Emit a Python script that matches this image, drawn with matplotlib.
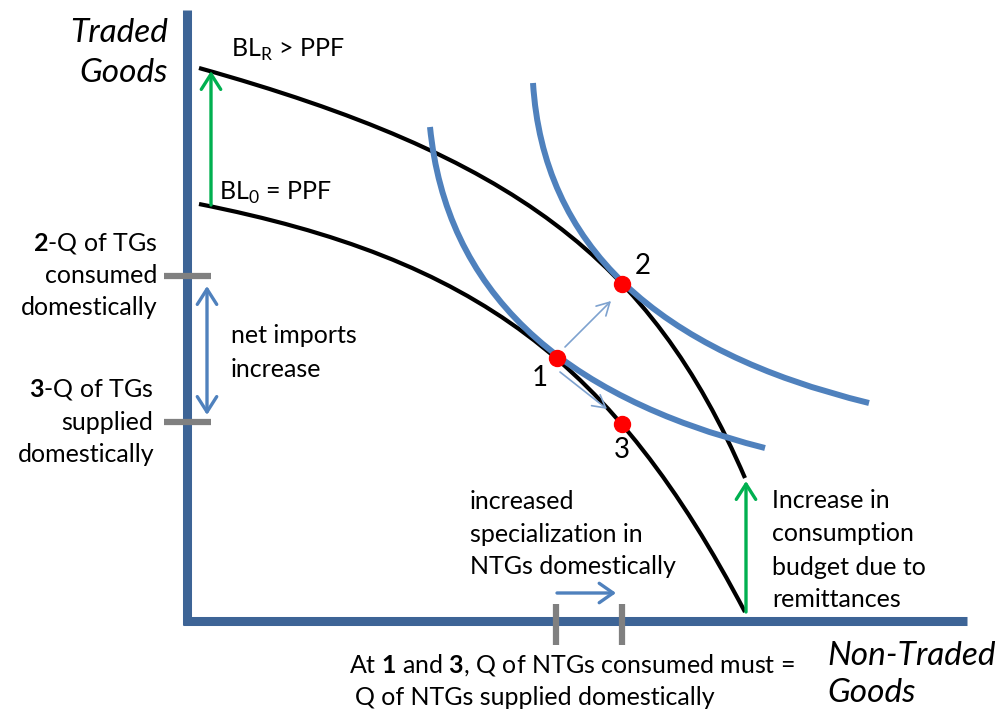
import matplotlib
matplotlib.use("Agg")
import matplotlib.pyplot as plt
from matplotlib.path import Path
from matplotlib.patches import PathPatch, FancyArrowPatch

plt.rcParams["font.family"] = ["Lato", "DejaVu Sans"]
plt.rcParams["mathtext.fontset"] = "custom"
plt.rcParams["mathtext.rm"] = "Lato"
plt.rcParams["mathtext.bf"] = "Lato:bold"

# everything in picture pixels (x right, y down)
axis_v = [(187, 10), (187, 625)]
axis_h = [(183, 621), (967, 621)]

# budget lines / PPF as cubic bezier control points
bl_r = [(199, 68), (513, 156), (650, 258), (745, 478)]
bl_0 = [(199, 204), (476, 259), (613, 361), (745, 612)]
# indifference curves as quadratic bezier control points
ic_1 = [(430, 127), (454, 370), (765, 448)]
ic_2 = [(533, 83), (548, 325), (869, 403)]

points = {"1": (557, 358), "2": (622, 284), "3": (622, 424)}
point_labels = {"1": (540, 378), "2": (643, 266), "3": (622, 450)}

ticks_y = [276, 422]
ticks_x = [556, 622]

BLUE = "#4f81bd"
AXIS = "#3d6496"
GREEN = "#00b050"
GREY = "#808080"

fig = plt.figure(figsize=(9.98, 7.17), dpi=100)
ax = fig.add_axes([0, 0, 1, 1])
ax.set_xlim(0, 998)
ax.set_ylim(717, 0)
ax.axis("off")

ax.plot(*zip(*axis_v), color=AXIS, lw=6.5, solid_capstyle="butt", zorder=2)
ax.plot(*zip(*axis_h), color=AXIS, lw=6.5, solid_capstyle="butt", zorder=2)


def bez(pts, color, lw):
    codes = [Path.MOVETO] + [Path.CURVE4 if len(pts) == 4 else Path.CURVE3] * (len(pts) - 1)
    ax.add_patch(PathPatch(Path(pts, codes), fill=False, edgecolor=color, lw=lw,
                           capstyle="butt", zorder=3))


bez(bl_r, "black", 3.0)
bez(bl_0, "black", 3.0)
bez(ic_1, BLUE, 4.3)
bez(ic_2, BLUE, 4.3)

for y in ticks_y:
    ax.plot([164, 211], [y, y], color=GREY, lw=4.5, solid_capstyle="butt", zorder=4)
for x in ticks_x:
    ax.plot([x, x], [604, 645], color=GREY, lw=4.5, solid_capstyle="butt", zorder=4)


def arrow(p0, p1, color, lw, style="->", hl=9, hw=5):
    ax.add_patch(FancyArrowPatch(p0, p1, arrowstyle=f"{style},head_length={hl},head_width={hw}",
                                 color=color, lw=lw, shrinkA=0, shrinkB=0,
                                 mutation_scale=1, zorder=5))


arrow((211, 205), (211, 71), GREEN, 2.4, hl=11, hw=7)
arrow((746, 612), (746, 481), GREEN, 2.4, hl=11, hw=7)
arrow((207, 415), (207, 286), BLUE, 2.4, style="<->", hl=11, hw=7)
arrow((557, 593), (616, 593), BLUE, 2.4, hl=10, hw=7)
arrow((565, 347), (611, 301), "#7ea2cf", 1.2, hl=9, hw=5)
arrow((560, 372), (607, 409), "#7ea2cf", 1.2, hl=9, hw=5)

for k, (x, y) in points.items():
    ax.plot(x, y, "o", color="#ff0000", ms=11.5, zorder=6)
    lx, ly = point_labels[k]
    ax.text(lx, ly, k, fontsize=20, ha="center", va="center")

ital = dict(fontsize=24, style="italic")
ax.text(168, 42, "Traded", ha="right", va="baseline", **ital)
ax.text(168, 82, "Goods", ha="right", va="baseline", **ital)
ax.text(827, 665, "Non-Traded", ha="left", va="baseline", **ital)
ax.text(827, 702, "Goods", ha="left", va="baseline", **ital)

fs = 18
ax.text(231, 57, r"BL$_\mathregular{R}$ > PPF", fontsize=fs, va="baseline")
ax.text(219, 200, r"BL$_\mathregular{0}$ = PPF", fontsize=fs, va="baseline")

left_lines = [(r"$\mathbf{2}$-Q of TGs", 157, 251), ("consumed", 157, 283),
              ("domestically", 158, 315), (r"$\mathbf{3}$-Q of TGs", 153, 397),
              ("supplied", 153, 430), ("domestically", 155, 462)]
for s, x, y in left_lines:
    ax.text(x, y, s, fontsize=fs, ha="right", va="baseline")

ax.text(231, 343, "net imports", fontsize=fs, va="baseline")
ax.text(231, 377, "increase", fontsize=fs, va="baseline")

for s, y in [("increased", 509), ("specialization in", 542), ("NTGs domestically", 574)]:
    ax.text(470, y, s, fontsize=fs, va="baseline")
for s, y in [("Increase in", 508), ("consumption", 541), ("budget due to", 575), ("remittances", 607)]:
    ax.text(772, y, s, fontsize=fs, va="baseline")

ax.text(795, 672, r"At $\mathbf{1}$ and $\mathbf{3}$, Q of NTGs consumed must =", fontsize=fs,
        ha="right", va="baseline")
ax.text(715, 705, "Q of NTGs supplied domestically", fontsize=fs, ha="right", va="baseline")

fig.savefig("out.png", dpi=100)
